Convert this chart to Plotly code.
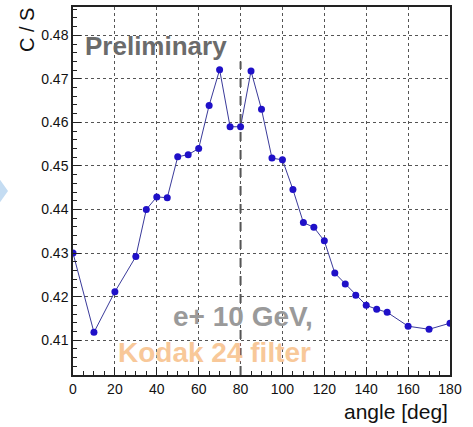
import plotly.graph_objects as go

angles = [0, 10, 20, 30, 35, 40, 45, 50, 55, 60, 65, 70, 75, 80, 85, 90, 95, 100,
          105, 110, 115, 120, 125, 130, 135, 140, 145, 150, 160, 170, 180]
ratio = [0.4300, 0.4118, 0.4211, 0.4292, 0.4400, 0.4429, 0.4427, 0.4521, 0.4526,
         0.4540, 0.4639, 0.4721, 0.4590, 0.4590, 0.4718, 0.4630, 0.4518, 0.4514,
         0.4446, 0.4370, 0.4359, 0.4328, 0.4254, 0.4229, 0.4203, 0.4180, 0.4171,
         0.4164, 0.4132, 0.4125, 0.4139]
x_ticks = [0, 20, 40, 60, 80, 100, 120, 140, 160, 180]
y_ticks = [0.41, 0.42, 0.43, 0.44, 0.45, 0.46, 0.47, 0.48]
dash_x = 80
dash_top = 0.474

W, H = 473, 427
ML, MR, MT, MB = 73, 23, 5, 52
pw = W - ML - MR
ph = H - MT - MB

def px_x(p):
    return (p - ML) / pw

def px_y(p):
    return 1 - (p - MT) / ph

fig = go.Figure()
fig.add_trace(go.Scatter(
    x=angles, y=ratio, mode="lines+markers",
    line=dict(color="#3a3a9a", width=1),
    marker=dict(color="#1f10c8", size=7),
    showlegend=False,
))

fig.add_shape(type="line", x0=dash_x, x1=dash_x, y0=0.402, y1=dash_top,
              xref="x", yref="y", line=dict(color="#555555", width=2, dash="dash"))

# decorative chevron at the left edge
fig.add_shape(type="path", xref="paper", yref="paper",
              path=f"M {px_x(-2)} {px_y(176)} L {px_x(8)} {px_y(190)} L {px_x(-2)} {px_y(204)} Z",
              fillcolor="#c4dcf2", line=dict(width=0))

fig.add_annotation(text="<b>Preliminary</b>", xref="paper", yref="paper",
                   x=px_x(156), y=px_y(44), xanchor="center", yanchor="middle",
                   showarrow=False, font=dict(family="Liberation Sans", size=26, color="#6b6b6b"))
fig.add_annotation(text="<b>e+ 10 GeV,</b>", xref="paper", yref="paper",
                   x=px_x(243), y=px_y(316), xanchor="center", yanchor="middle",
                   showarrow=False, font=dict(family="Liberation Sans", size=28, color="#9a9a9a"))
fig.add_annotation(text="<b>Kodak 24 filter</b>", xref="paper", yref="paper",
                   x=px_x(214), y=px_y(352), xanchor="center", yanchor="middle",
                   showarrow=False, font=dict(family="Liberation Sans", size=28, color="#f8c899"))
fig.add_annotation(text="C / S", xref="paper", yref="paper",
                   x=px_x(27), y=px_y(4), xanchor="center", yanchor="top", textangle=-90,
                   showarrow=False, font=dict(family="Liberation Sans", size=20, color="#111111"))
fig.add_annotation(text="angle [deg]", xref="paper", yref="paper",
                   x=px_x(450), y=px_y(412), xanchor="right", yanchor="middle",
                   showarrow=False, font=dict(family="Liberation Sans", size=21, color="#111111"))

axis_common = dict(
    showline=True, linecolor="#222222", linewidth=1.5, mirror=True,
    ticks="inside", tickcolor="#222222", ticklen=8, tickwidth=1,
    showgrid=True, gridcolor="#555555", griddash="dot", gridwidth=1,
    zeroline=False,
    tickfont=dict(family="Liberation Sans", size=14, color="#111111"),
)

fig.update_xaxes(range=[0, 180], tickvals=x_ticks, ticktext=[str(v) for v in x_ticks],
                 minor=dict(dtick=5, ticks="inside", ticklen=4, tickcolor="#222222", showgrid=False),
                 **axis_common)
fig.update_yaxes(range=[0.4020, 0.4865], tickvals=y_ticks, ticktext=[f"{v:.2f}" for v in y_ticks],
                 minor=dict(dtick=0.002, ticks="inside", ticklen=4, tickcolor="#222222", showgrid=False),
                 **axis_common)

fig.update_layout(
    width=W, height=H,
    margin=dict(l=ML, r=MR, t=MT, b=MB),
    paper_bgcolor="white", plot_bgcolor="white",
)

fig.write_html("out.html")
